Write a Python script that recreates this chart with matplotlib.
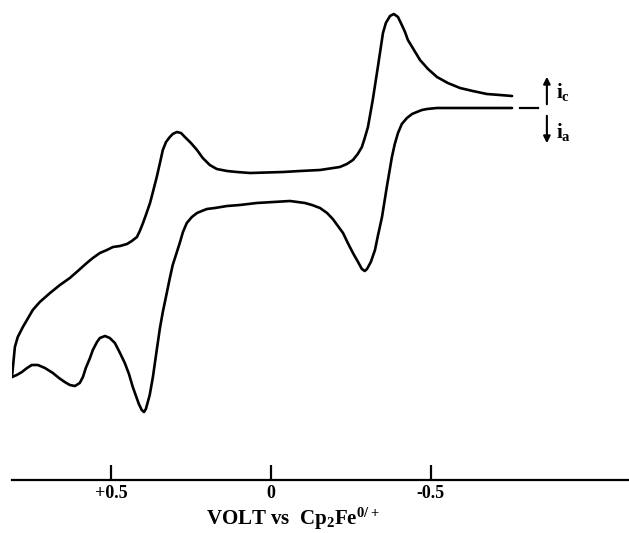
import matplotlib.pyplot as plt

plt.rcParams['mathtext.fontset'] = 'custom'
plt.rcParams['mathtext.rm'] = 'Liberation Serif:bold'
plt.rcParams['mathtext.bf'] = 'Liberation Serif:bold'
plt.rcParams['mathtext.it'] = 'Liberation Serif:bold'
plt.rcParams['mathtext.default'] = 'bf'

# forward scan (upper, cathodic side), volts vs Cp2Fe and current (arb. units)
v_fwd = [0.811, 0.802, 0.793, 0.777, 0.746, 0.724, 0.692, 0.661, 0.630, 0.605,
         0.577, 0.558, 0.536, 0.514, 0.495, 0.473, 0.451, 0.436, 0.420, 0.411,
         0.401, 0.392, 0.379, 0.370, 0.358, 0.348, 0.339, 0.329, 0.317, 0.308,
         0.295, 0.282, 0.270, 0.251, 0.232, 0.214, 0.192, 0.170, 0.138, 0.107,
         0.066, -0.037, -0.090, -0.153, -0.215, -0.237, -0.256, -0.271, -0.284, -0.293,
         -0.303, -0.318, -0.334, -0.350, -0.359, -0.372, -0.384, -0.397, -0.409, -0.419,
         -0.428, -0.447, -0.466, -0.491, -0.519, -0.553, -0.591, -0.631, -0.675, -0.716,
         -0.754]
i_fwd = [1.03, 1.33, 1.43, 1.53, 1.70, 1.78, 1.87, 1.95, 2.02, 2.09,
         2.17, 2.22, 2.27, 2.30, 2.33, 2.34, 2.36, 2.39, 2.43, 2.49,
         2.57, 2.65, 2.77, 2.88, 3.03, 3.17, 3.30, 3.38, 3.43, 3.46,
         3.48, 3.47, 3.43, 3.37, 3.30, 3.22, 3.15, 3.11, 3.09, 3.08,
         3.07, 3.08, 3.09, 3.10, 3.13, 3.16, 3.20, 3.26, 3.33, 3.42,
         3.53, 3.80, 4.13, 4.47, 4.57, 4.64, 4.66, 4.63, 4.55, 4.48,
         4.40, 4.30, 4.20, 4.11, 4.03, 3.97, 3.92, 3.89, 3.86, 3.85,
         3.84]

# reverse scan (lower, anodic side)
v_rev = [-0.754, -0.653, -0.569, -0.519, -0.488, -0.472, -0.456, -0.441, -0.425, -0.409,
         -0.397, -0.387, -0.378, -0.362, -0.347, -0.334, -0.325, -0.312, -0.300, -0.293,
         -0.284, -0.272, -0.256, -0.240, -0.225, -0.209, -0.193, -0.175, -0.153, -0.128,
         -0.106, -0.059, 0.045, 0.098, 0.138, 0.176, 0.201, 0.217, 0.232, 0.248,
         0.264, 0.276, 0.286, 0.308, 0.317, 0.326, 0.339, 0.348, 0.358, 0.370,
         0.380, 0.392, 0.398, 0.405, 0.414, 0.433, 0.445, 0.458, 0.473, 0.489,
         0.505, 0.520, 0.536, 0.545, 0.558, 0.567, 0.580, 0.589, 0.599, 0.614,
         0.630, 0.646, 0.664, 0.683, 0.708, 0.730, 0.749, 0.764, 0.780, 0.796,
         0.811]
i_rev = [3.72, 3.72, 3.72, 3.72, 3.71, 3.70, 3.68, 3.66, 3.62, 3.56,
         3.47, 3.36, 3.23, 2.93, 2.63, 2.44, 2.30, 2.18, 2.11, 2.09,
         2.11, 2.18, 2.27, 2.37, 2.47, 2.54, 2.61, 2.67, 2.72, 2.75,
         2.77, 2.79, 2.77, 2.75, 2.74, 2.72, 2.71, 2.69, 2.67, 2.63,
         2.57, 2.48, 2.37, 2.15, 2.02, 1.88, 1.68, 1.52, 1.30, 1.03,
         0.85, 0.71, 0.68, 0.70, 0.76, 0.93, 1.06, 1.17, 1.27, 1.37,
         1.42, 1.44, 1.42, 1.38, 1.30, 1.22, 1.12, 1.03, 0.97, 0.94,
         0.95, 0.98, 1.02, 1.07, 1.12, 1.15, 1.15, 1.12, 1.08, 1.05,
         1.03]

# short zero-current dash at the right end
v_dash = [-0.779, -0.835]
i_dash = [3.72, 3.72]

tick_pos = [0.5, 0.0, -0.5]
tick_lab = ['+0.5', '0', '-0.5']

fig = plt.figure(figsize=(6.29, 5.33), dpi=100)
ax = fig.add_axes([12 / 629, 53 / 533, 617 / 629, 480 / 533])

ax.plot(v_fwd, i_fwd, color='black', lw=1.9, solid_capstyle='round', solid_joinstyle='round')
ax.plot(v_rev, i_rev, color='black', lw=1.9, solid_capstyle='round', solid_joinstyle='round')
ax.plot(v_dash, i_dash, color='black', lw=1.6)

# current direction arrows
ax.annotate('', xy=(-0.863, 4.06), xytext=(-0.863, 3.73),
            arrowprops=dict(arrowstyle='-|>', color='black', lw=1.5, mutation_scale=10))
ax.annotate('', xy=(-0.863, 3.34), xytext=(-0.863, 3.67),
            arrowprops=dict(arrowstyle='-|>', color='black', lw=1.5, mutation_scale=10))
ax.text(-0.890, 3.88, r'$\mathbf{i_c}$', fontsize=15, va='center', ha='left')
ax.text(-0.890, 3.48, r'$\mathbf{i_a}$', fontsize=15, va='center', ha='left')

ax.set_xlim(0.811, -1.120)
ax.set_ylim(0, 4.8)

for s in ['top', 'left', 'right']:
    ax.spines[s].set_visible(False)
ax.spines['bottom'].set_linewidth(1.6)
ax.set_yticks([])
ax.set_xticks(tick_pos)
ax.set_xticklabels(tick_lab, family='Liberation Serif', fontweight='bold', fontsize=13)
ax.tick_params(axis='x', direction='in', length=11, width=1.6, pad=3.5)

ax.set_xlabel(r'VOLT vs  Cp$_2$Fe$^{0/+}$', family='Liberation Serif',
              fontweight='bold', fontsize=15)
ax.xaxis.set_label_coords(0.455, -0.054)

fig.savefig('out.png', dpi=100)
